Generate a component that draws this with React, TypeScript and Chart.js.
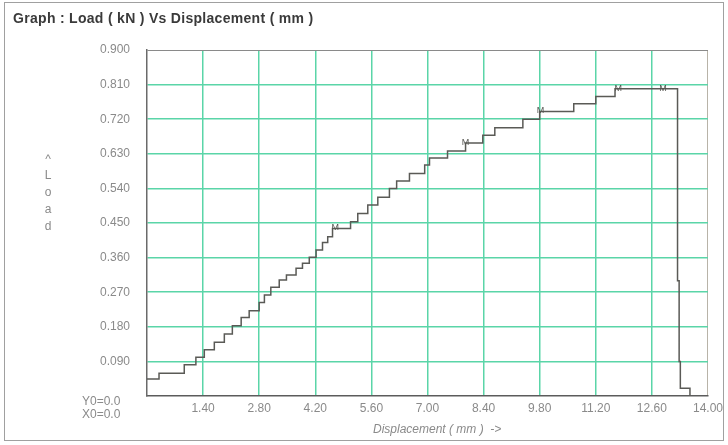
import React, { useEffect, useRef } from 'react';
import { Chart, registerables } from 'chart.js';

Chart.register(...registerables);

// ---- data ----
const displacement = [
  0, 0.30, 0.93, 1.22, 1.43, 1.68, 1.93, 2.13, 2.35, 2.55, 2.80, 2.93, 3.09, 3.30,
  3.48, 3.72, 3.88, 4.05, 4.22, 4.38, 4.51, 4.63, 5.08, 5.26, 5.51, 5.76, 6.05, 6.23,
  6.55, 6.93, 7.05, 7.50, 7.95, 8.38, 8.68, 9.38, 9.80, 10.65, 11.20, 11.68,
  13.24, 13.28, 13.31, 13.55,
];
const load = [
  0.044, 0.059, 0.081, 0.101, 0.120, 0.140, 0.161, 0.183, 0.204, 0.222, 0.243, 0.263, 0.283, 0.302,
  0.315, 0.332, 0.345, 0.361, 0.380, 0.399, 0.414, 0.436, 0.453, 0.475, 0.497, 0.517, 0.540, 0.559,
  0.579, 0.601, 0.619, 0.637, 0.658, 0.678, 0.698, 0.720, 0.740, 0.760, 0.779, 0.799,
  0.300, 0.090, 0.020, 0.000,
];
const markerDisp = [4.70, 7.95, 9.82, 11.76, 12.88];
const markerLoad = [0.436, 0.658, 0.740, 0.799, 0.799];

const xTickValues = [0, 1.4, 2.8, 4.2, 5.6, 7.0, 8.4, 9.8, 11.2, 12.6, 14.0];
const yTickValues = [0, 0.09, 0.18, 0.27, 0.36, 0.45, 0.54, 0.63, 0.72, 0.81, 0.9];

const TITLE = 'Graph : Load ( kN ) Vs Displacement ( mm )';
const X_TITLE = 'Displacement ( mm )  ->';
const Y_LETTERS = ['^', 'L', 'o', 'a', 'd'];
const ORIGIN_LABELS = ['Y0=0.0', 'X0=0.0'];

const FONT = '"Liberation Sans", Arial, sans-serif';
const GRID_GREEN = '#5ad5a8';
const LABEL_GREY = '#8a8a8a';

const decorPlugin = {
  id: 'decor',
  beforeDraw(chart: any) {
    const ctx = chart.ctx;
    ctx.save();
    ctx.fillStyle = '#ffffff';
    ctx.fillRect(0, 0, chart.width, chart.height);
    ctx.strokeStyle = '#a0a0a0';
    ctx.lineWidth = 1;
    ctx.strokeRect(4.5, 2.5, 719, 438);
    ctx.restore();
  },
  afterDraw(chart: any) {
    const ctx = chart.ctx;
    ctx.save();
    ctx.textBaseline = 'middle';
    ctx.textAlign = 'left';
    ctx.fillStyle = '#3a3a3a';
    ctx.font = `bold 14px ${FONT}`;
    try { (ctx as any).letterSpacing = '0.3px'; } catch (e) { /* ignore */ }
    ctx.fillText(TITLE, 13, 19);
    try { (ctx as any).letterSpacing = '0px'; } catch (e) { /* ignore */ }

    ctx.fillStyle = LABEL_GREY;
    ctx.font = `12px ${FONT}`;
    ctx.textAlign = 'center';
    Y_LETTERS.forEach((ch, i) => ctx.fillText(ch, 48, (i === 0 ? 160 : 159) + i * 17));

    ctx.textAlign = 'left';
    ORIGIN_LABELS.forEach((t, i) => ctx.fillText(t, 82, 402 + i * 13));

    ctx.font = `italic 12px ${FONT}`;
    ctx.fillText(X_TITLE, 373, 430);

    // small "M" markers on the curve
    const xs = chart.scales.x;
    const ys = chart.scales.y;
    ctx.fillStyle = '#555550';
    ctx.font = `9px ${FONT}`;
    ctx.textAlign = 'center';
    ctx.textBaseline = 'bottom';
    markerDisp.forEach((d, i) => {
      ctx.fillText('M', xs.getPixelForValue(d), ys.getPixelForValue(markerLoad[i]) + 4);
    });
    ctx.restore();
  },
};

export default function App() {
  const ref = useRef<HTMLCanvasElement>(null);

  useEffect(() => {
    if (!ref.current) return;
    const chart = new Chart(ref.current, {
      type: 'line',
      data: {
        datasets: [
          {
            data: displacement.map((d, i) => ({ x: d, y: load[i] })),
            borderColor: '#5a5a56',
            borderWidth: 1.5,
            pointRadius: 0,
            stepped: true,
            fill: false,
          },
        ],
      },
      options: {
        animation: false,
        responsive: false,
        devicePixelRatio: 1,
        layout: { padding: { top: 50, right: 20, left: 0, bottom: 0 } },
        plugins: { legend: { display: false }, tooltip: { enabled: false }, title: { display: false } },
        scales: {
          x: {
            type: 'linear',
            min: 0,
            max: 14,
            afterBuildTicks: (scale: any) => {
              scale.ticks = xTickValues.map((v) => ({ value: v }));
            },
            afterFit: (scale: any) => {
              scale.height = 49;
            },
            ticks: {
              padding: 5,
              color: LABEL_GREY,
              font: { family: FONT, size: 12 },
              maxRotation: 0,
              autoSkip: false,
              callback: (v: any) => (Number(v) === 0 ? '' : Number(v).toFixed(2)),
            },
            grid: {
              drawTicks: false,
              lineWidth: (c: any) => (c.tick && Math.abs(c.tick.value - 14) < 1e-6 ? 1 : 1.5),
              color: (c: any) =>
                c.tick && Math.abs(c.tick.value - 14) < 1e-6 ? '#b8b3a8' : c.tick && c.tick.value === 0 ? 'rgba(0,0,0,0)' : GRID_GREEN,
            },
            border: { display: true, color: '#5c5c5c', width: 1.5 },
          },
          y: {
            type: 'linear',
            min: 0,
            max: 0.9,
            afterBuildTicks: (scale: any) => {
              scale.ticks = yTickValues.map((v) => ({ value: v }));
            },
            afterFit: (scale: any) => {
              scale.width = 147;
            },
            ticks: {
              padding: 17,
              color: LABEL_GREY,
              font: { family: FONT, size: 12 },
              autoSkip: false,
              callback: (v: any) => (Number(v) === 0 ? '' : Number(v).toFixed(3)),
            },
            grid: {
              drawTicks: false,
              lineWidth: (c: any) => (c.tick && Math.abs(c.tick.value - 0.9) < 1e-6 ? 1 : 1.5),
              color: (c: any) =>
                c.tick && Math.abs(c.tick.value - 0.9) < 1e-6 ? '#8a8a8a' : c.tick && c.tick.value === 0 ? 'rgba(0,0,0,0)' : GRID_GREEN,
            },
            border: { display: true, color: '#6a6a6a', width: 1.5 },
          },
        },
      },
      plugins: [decorPlugin],
    } as any);
    return () => chart.destroy();
  }, []);

  return (
    <div style={{ position: 'fixed', left: 0, top: 0, width: 728, height: 445, background: '#fff' }}>
      <canvas ref={ref} width={728} height={445} style={{ display: 'block' }} />
    </div>
  );
}
